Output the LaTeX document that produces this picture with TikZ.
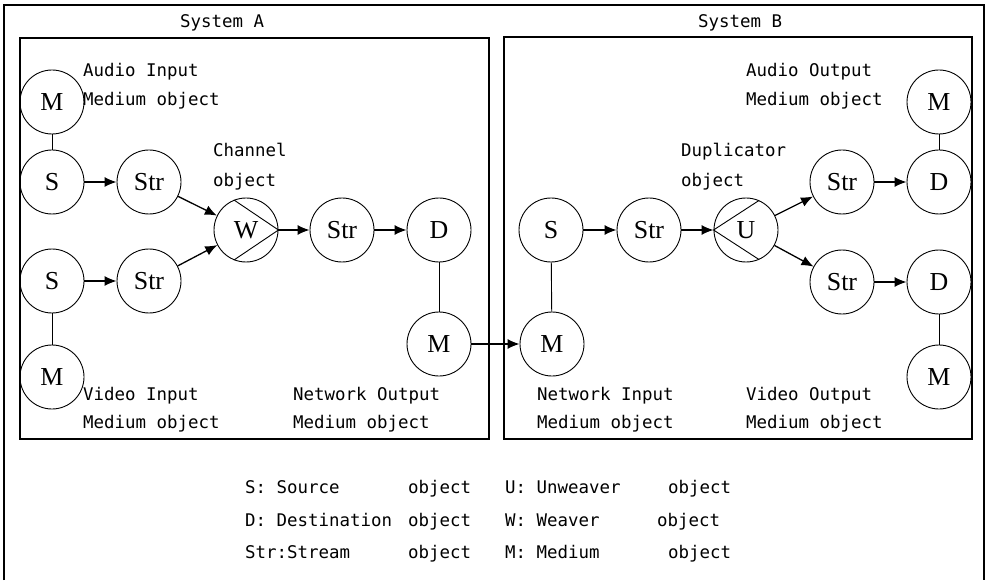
\documentclass[tikz,border=0pt]{standalone}
\usepackage{fontspec}
\setmainfont{Liberation Serif}
\newfontfamily\lblfont{DejaVu Sans Mono}
\usetikzlibrary{arrows.meta}
\begin{document}
\begin{tikzpicture}[x=1bp,y=-1bp,
 obj/.style={circle,draw,line width=0.9bp,minimum size=64bp,inner sep=0pt,font=\fontsize{26}{28}\selectfont},
 lbl/.style={anchor=base west,inner sep=0pt,font=\lblfont\fontsize{17.5}{20}\selectfont},
 arr/.style={-{Latex[length=12bp,width=10bp]},line width=1.3bp},
 link/.style={line width=0.9bp},
 frame/.style={line width=1.4bp}]
\useasboundingbox (0,0) rectangle (987,581);
% outer frame
\draw[frame] (4,580) -- (4,5) -- (984,5) -- (984,580);
% system boxes
\draw[frame] (20,38) rectangle (489,439);
\draw[frame] (504,37) rectangle (972,439);
\node[lbl] (sysA) at (180,28) {System A};
\node[lbl] (sysB) at (698,28) {System B};

% System A nodes
\node[obj] (Ma) at (52,102) {M};
\node[obj] (S1) at (52,182) {S};
\node[obj] (Str1) at (149,182) {Str};
\node[obj] (S2) at (52,281) {S};
\node[obj] (Str2) at (149,281) {Str};
\node[obj] (Mv) at (52,377) {M};
\node[obj] (W) at (246,230) {W};
\node[obj] (Str3) at (342,230) {Str};
\node[obj] (Da) at (439,230) {D};
\node[obj] (Mno) at (439,344) {M};
\draw[link] (W.112) -- (W.east) -- (W.248);

% System B nodes
\node[obj] (Sb) at (551,230) {S};
\node[obj] (Strb) at (649,230) {Str};
\node[obj] (U) at (746,230) {U};
\node[obj] (StrU) at (842,182) {Str};
\node[obj] (StrL) at (842,282) {Str};
\node[obj] (DU) at (939,182) {D};
\node[obj] (DL) at (939,282) {D};
\node[obj] (MU) at (939,102) {M};
\node[obj] (ML) at (939,377) {M};
\node[obj] (Mni) at (552,344) {M};
\draw[link] (U.66) -- (U.west) -- (U.-66);

% links
\draw[link] (Ma) -- (S1);
\draw[link] (S2) -- (Mv);
\draw[link] (Da) -- (Mno);
\draw[link] (Sb) -- (Mni);
\draw[link] (MU) -- (DU);
\draw[link] (DL) -- (ML);

% arrows
\draw[arr] (S1) -- (Str1);
\draw[arr] (S2) -- (Str2);
\draw[arr] (Str1) -- (W);
\draw[arr] (Str2) -- (W);
\draw[arr] (W) -- (Str3);
\draw[arr] (Str3) -- (Da);
\draw[arr] (Mno) -- (Mni);
\draw[arr] (Sb) -- (Strb);
\draw[arr] (Strb) -- (U);
\draw[arr] (U) -- (StrU);
\draw[arr] (U) -- (StrL);
\draw[arr] (StrU) -- (DU);
\draw[arr] (StrL) -- (DL);

% labels
\node[lbl] (l1a) at (83,77) {Audio Input};
\node[lbl] (l1b) at (83,106) {Medium object};
\node[lbl] (l2a) at (213,157) {Channel};
\node[lbl] (l2b) at (213,187) {object};
\node[lbl] (l3a) at (83,400) {Video Input};
\node[lbl] (l3b) at (83,428) {Medium object};
\node[lbl] (l4a) at (293,400) {Network Output};
\node[lbl] (l4b) at (293,428) {Medium object};
\node[lbl] (l5a) at (537,400) {Network Input};
\node[lbl] (l5b) at (537,428) {Medium object};
\node[lbl] (l6a) at (746,400) {Video Output};
\node[lbl] (l6b) at (746,428) {Medium object};
\node[lbl] (l7a) at (746,77) {Audio Output};
\node[lbl] (l7b) at (746,106) {Medium object};
\node[lbl] (l8a) at (681,157) {Duplicator};
\node[lbl] (l8b) at (681,187) {object};

% legend
\node[lbl] (g1) at (245,493) {S: Source};
\node[lbl] (g1o) at (408,493) {object};
\node[lbl] (g2) at (245,526) {D: Destination};
\node[lbl] (g2o) at (408,526) {object};
\node[lbl] (g3) at (245,558) {Str:Stream};
\node[lbl] (g3o) at (408,558) {object};
\node[lbl] (g4) at (505,493) {U: Unweaver};
\node[lbl] (g4o) at (668,493) {object};
\node[lbl] (g5) at (505,526) {W: Weaver};
\node[lbl] (g5o) at (657,526) {object};
\node[lbl] (g6) at (505,558) {M: Medium};
\node[lbl] (g6o) at (668,558) {object};
\end{tikzpicture}
\end{document}
